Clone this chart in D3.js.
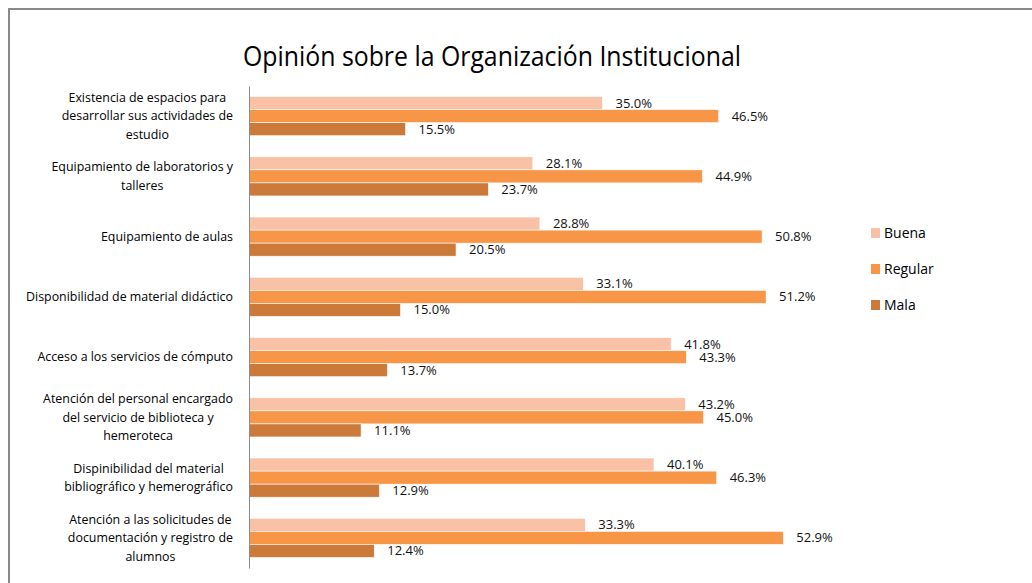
<!DOCTYPE html>
<html>
<head>
<meta charset="utf-8">
<script src="https://cdn.jsdelivr.net/npm/d3@7"></script>
<style>
  body { margin: 0; background: #fff; }
  svg { display: block; }
</style>
</head>
<body>
<svg id="chart" width="1032" height="583"></svg>
<script>
// category labels, already broken into the lines shown in the chart
const categories = [
    ['Existencia de espacios para', 'desarrollar sus actividades de', 'estudio'],
    ['Equipamiento de laboratorios y', 'talleres'],
    ['Equipamiento de aulas'],
    ['Disponibilidad de material didáctico'],
    ['Acceso a los servicios de cómputo'],
    ['Atención del personal encargado', 'del servicio de biblioteca y', 'hemeroteca'],
    ['Dispinibilidad del material', 'bibliográfico y hemerográfico'],
    ['Atención a las solicitudes de', 'documentación y registro de', 'alumnos']
];
const seriesNames = ['Buena', 'Regular', 'Mala'];
const buena = [35.0, 28.1, 28.8, 33.1, 41.8, 43.2, 40.1, 33.3];
const regular = [46.5, 44.9, 50.8, 51.2, 43.3, 45.0, 46.3, 52.9];
const mala = [15.5, 23.7, 20.5, 15.0, 13.7, 11.1, 12.9, 12.4];
const title = 'Opinión sobre la Organización Institucional';

const colors = { Buena: '#f9c2a6', Regular: '#f79646', Mala: '#cc7a3a' };
const font = "'Open Sans', sans-serif";

let svg = d3.select('#chart');

// frame of the pasted chart (top and left edges only are visible)
svg.append('line')
    .attr('x1', 8).attr('x2', 1032).attr('y1', 9).attr('y2', 9)
    .style('stroke', '#8a8a8a').style('stroke-width', 2);
svg.append('line')
    .attr('x1', 9).attr('x2', 9).attr('y1', 8).attr('y2', 583)
    .style('stroke', '#8a8a8a').style('stroke-width', 2);

// title
svg.append('text')
    .attr('x', 492)
    .attr('y', 66)
    .attr('text-anchor', 'middle')
    .attr('textLength', 498)
    .attr('lengthAdjust', 'spacingAndGlyphs')
    .style('font-family', font)
    .style('font-size', '28px')
    .style('fill', '#000')
    .text(title);

// scales
const yScale = d3.scaleBand()
    .domain(d3.range(categories.length))
    .range([86, 568])
    .paddingInner(0.35)
    .paddingOuter(0.175);
const seriesScale = d3.scaleBand()
    .domain(seriesNames)
    .range([0, yScale.bandwidth()]);
const xScale = d3.scaleLinear()
    .domain([0, 60])
    .range([249, 855]);

const rows = categories.map((c, i) => ({
    index: i,
    values: [
        { name: 'Buena', value: buena[i] },
        { name: 'Regular', value: regular[i] },
        { name: 'Mala', value: mala[i] }
    ]
}));

// bars
let groups = svg.selectAll('.group')
    .data(rows)
    .join('g')
    .classed('group', true)
    .attr('transform', d => `translate(0,${yScale(d.index)})`);

groups.selectAll('rect')
    .data(d => d.values)
    .join('rect')
    .attr('x', xScale(0))
    .attr('y', d => seriesScale(d.name))
    .attr('width', d => xScale(d.value) - xScale(0))
    .attr('height', seriesScale.bandwidth())
    .style('fill', d => colors[d.name])
    .style('stroke', '#fff')
    .style('stroke-width', 0.6);

// value labels
groups.selectAll('.value-label')
    .data(d => d.values)
    .join('text')
    .classed('value-label', true)
    .attr('x', d => xScale(d.value) + 13)
    .attr('y', d => seriesScale(d.name) + seriesScale.bandwidth() / 2)
    .attr('dy', '0.35em')
    .style('font-family', font)
    .style('font-size', '13px')
    .style('fill', '#111')
    .text(d => d.value.toFixed(1) + '%');

// vertical axis line
let axisG = svg.append('g')
    .attr('transform', `translate(${xScale(0)},0)`)
    .call(d3.axisLeft(yScale).tickSize(0).tickSizeOuter(0).tickFormat(''));
axisG.select('.domain').style('stroke', '#8c8c8c');

// category labels: block right aligned, lines centred inside the block
const lineH = 18.7;
let labelG = svg.append('g');
categories.forEach((lines, i) => {
    let cy = yScale(i) + yScale.bandwidth() / 2;
    let t = labelG.append('text')
        .style('font-family', font)
        .style('font-size', '12.4px')
        .style('fill', '#000')
        .attr('text-anchor', 'middle');
    let spans = lines.map((l, k) => t.append('tspan')
        .attr('y', cy + (k - (lines.length - 1) / 2) * lineH)
        .attr('dy', '0.35em')
        .text(l));
    let maxW = d3.max(spans, s => s.node().getComputedTextLength());
    spans.forEach(s => s.attr('x', 233 - maxW / 2));
});

// legend
let legend = svg.append('g');
legend.selectAll('rect')
    .data(seriesNames)
    .join('rect')
    .attr('x', 871)
    .attr('y', (d, i) => 228 + i * 36)
    .attr('width', 9)
    .attr('height', 10)
    .style('fill', d => colors[d]);
legend.selectAll('text')
    .data(seriesNames)
    .join('text')
    .attr('x', 884)
    .attr('y', (d, i) => 233 + i * 36)
    .attr('dy', '0.35em')
    .style('font-family', font)
    .style('font-size', '14px')
    .style('fill', '#000')
    .text(d => d);
</script>
</body>
</html>
